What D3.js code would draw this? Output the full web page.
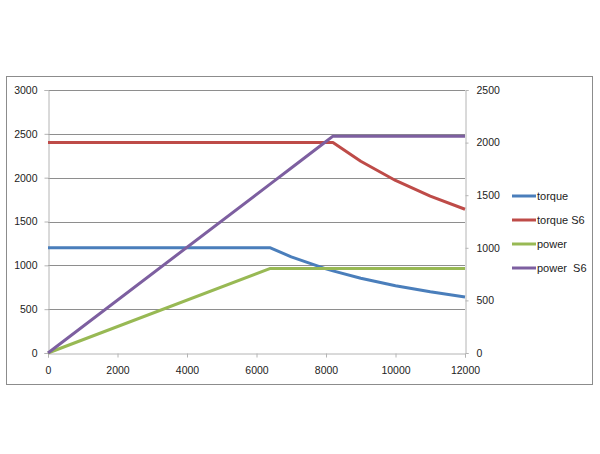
<!DOCTYPE html>
<html>
<head>
<meta charset="utf-8">
<script src="https://cdn.jsdelivr.net/npm/d3@7"></script>
<style>
  body { margin: 0; background: #fff; }
  svg text { font-family: "Liberation Sans Narrow", "Liberation Sans", Arial, sans-serif; font-size: 11px; fill: #222; }
</style>
</head>
<body>
<svg width="600" height="454"></svg>
<script>
// speed (rpm) points
var speed = [0, 6400, 7000, 8000, 8200, 9000, 10000, 11000, 12000];
// left axis series (Nm)
var torque   = [1200, 1200, 1097, 960, 937, 853, 768, 698, 640];
var torqueS6 = [2400, 2400, 2400, 2400, 2400, 2187, 1968, 1789, 1640];
// right axis series (kW)
var power    = [0, 804, 804, 804, 804, 804, 804, 804, 804];
var powerS6  = [0, 1608, 1759, 2010, 2061, 2061, 2061, 2061, 2061];

var xTicks = [0, 2000, 4000, 6000, 8000, 10000, 12000];
var leftTicks = [0, 500, 1000, 1500, 2000, 2500, 3000];
var rightTicks = [0, 500, 1000, 1500, 2000, 2500];

var seriesNames = ["torque", "torque S6", "power", "power  S6"];
var seriesColors = ["#4a7ebb", "#be4b48", "#98b954", "#7d5fa0"];

var svg = d3.select("svg");

// outer frame
svg.append("rect")
  .attr("x", 6.5).attr("y", 76.5)
  .attr("width", 586).attr("height", 308)
  .attr("fill", "none")
  .attr("stroke", "#8c8c8c");

var plotLeft = 48, plotRight = 465, plotTop = 90, plotBottom = 353;

var x = d3.scaleLinear().domain([0, 12000]).range([plotLeft, plotRight]);
var yL = d3.scaleLinear().domain([0, 3000]).range([plotBottom, plotTop]);
var yR = d3.scaleLinear().domain([0, 2500]).range([plotBottom, plotTop]);

//Gridlines
svg.append("g")
  .selectAll("line")
  .data(leftTicks.filter(function(d){return d>0;}))
  .enter().append("line")
  .attr("x1", plotLeft).attr("x2", plotRight)
  .attr("y1", function(d){return Math.round(yL(d))+0.5;})
  .attr("y2", function(d){return Math.round(yL(d))+0.5;})
  .attr("stroke", "#8e8e8e");

//Axes
var gx = svg.append("g")
  .attr("transform", "translate(0," + (plotBottom+0.5) + ")")
  .call(d3.axisBottom(x).tickValues(xTicks).tickSizeOuter(0).tickSize(4).tickPadding(9).tickFormat(d3.format("d")));

var gl = svg.append("g")
  .attr("transform", "translate(" + (plotLeft+0.5) + ",0)")
  .call(d3.axisLeft(yL).tickValues(leftTicks).tickSizeOuter(0).tickSize(4).tickPadding(7).tickFormat(d3.format("d")));

var gr = svg.append("g")
  .attr("transform", "translate(" + (plotRight+0.5) + ",0)")
  .call(d3.axisRight(yR).tickValues(rightTicks).tickSizeOuter(0).tickSize(3).tickPadding(8).tickFormat(d3.format("d")));

[gx, gl, gr].forEach(function(g){
  g.select(".domain").attr("stroke", "#b4b4b4");
  g.selectAll(".tick line").attr("stroke", "#b4b4b4");
  g.selectAll("text").attr("fill", "#222").style("font-size", "10.5px");
});

//Lines
var lineL = d3.line().x(function(d,i){return x(speed[i]);}).y(function(d){return yL(d);});
var lineR = d3.line().x(function(d,i){return x(speed[i]);}).y(function(d){return yR(d);});

var drawn = [
  {vals: torque, line: lineL},
  {vals: torqueS6, line: lineL},
  {vals: power, line: lineR},
  {vals: powerS6, line: lineR}
];

drawn.forEach(function(s, i){
  svg.append("path")
    .attr("d", s.line(s.vals))
    .attr("fill", "none")
    .attr("stroke", seriesColors[i])
    .attr("stroke-width", 3)
    .attr("stroke-linejoin", "round");
});

//Legend
var legend = svg.append("g").attr("transform", "translate(512,196)");
seriesNames.forEach(function(n, i){
  legend.append("line")
    .attr("x1", 0).attr("x2", 24)
    .attr("y1", i*24).attr("y2", i*24)
    .attr("stroke", seriesColors[i])
    .attr("stroke-width", 3);
  legend.append("text")
    .attr("x", 25).attr("y", i*24)
    .attr("dy", "0.35em")
    .style("font-size", "11px")
    .style("white-space", "pre")
    .attr("xml:space", "preserve")
    .text(n);
});
</script>
</body>
</html>
